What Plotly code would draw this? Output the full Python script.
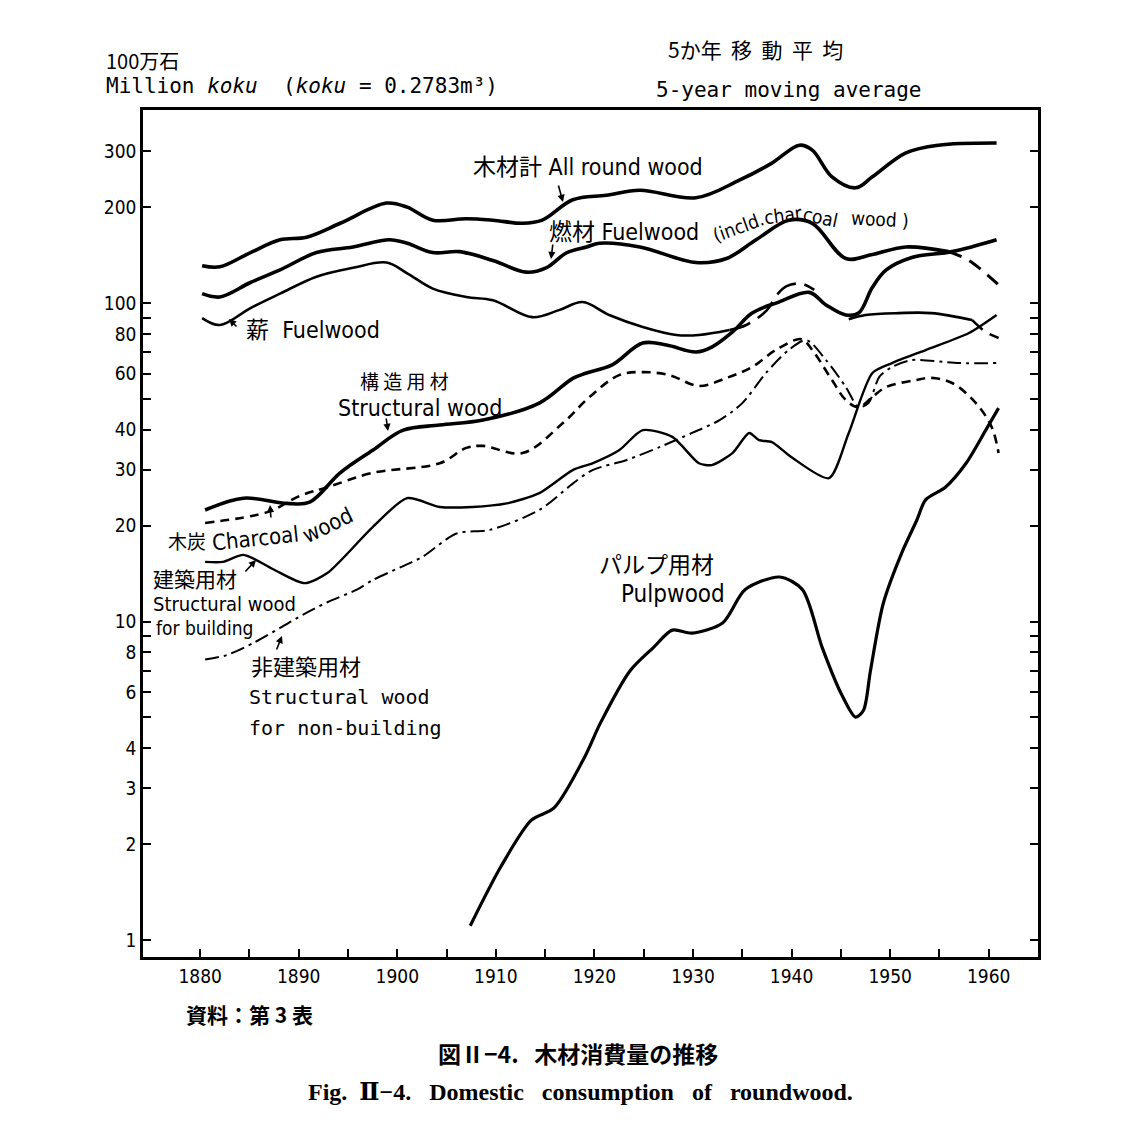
import plotly.graph_objects as go

# ---------------- data (5-year moving averages, million koku) ----------------
all_years = [1880.2, 1882.0, 1885.1, 1888.1, 1890.8, 1894.2, 1898.9, 1901.0, 1903.6, 1907.0, 1909.7,
             1912.7, 1914.7, 1917.8, 1921.2, 1924.6, 1930.3, 1934.7, 1938.0, 1940.8, 1942.1, 1944.1,
             1946.5, 1948.2, 1951.6, 1954.9, 1960.8]
all_vals = [131, 130, 144, 158, 161, 178, 206, 200, 182, 184, 182,
            178, 182, 211, 218, 226, 214, 243, 275, 313, 302, 249,
            230, 249, 296, 313, 318]

fuel_years = [1880.2, 1882.0, 1885.1, 1888.1, 1891.8, 1895.5, 1899.2, 1901.0, 1903.6, 1906.3, 1909.7,
              1913.1, 1915.1, 1917.2, 1919.2, 1920.5, 1924.6, 1930.3, 1933.4, 1936.4, 1939.7, 1942.1,
              1945.5, 1948.2, 1951.6, 1955.9]
fuel_vals = [107, 104.5, 116, 127, 144, 150, 158, 154, 144, 145, 136,
             125, 129, 144, 150, 154, 150, 134, 138, 158, 182, 178,
             138, 142, 150, 145]
fuel_tail_years = [1955.9, 1958.0, 1961.0]
fuel_tail_vals = [145, 136, 114]

fw_years = [1880.2, 1882.0, 1885.1, 1888.1, 1891.8, 1895.5, 1898.9, 1901.0, 1903.6, 1907.0, 1909.7,
            1913.7, 1916.4, 1918.8, 1921.5, 1924.9, 1928.3, 1930.6, 1933.7]
fw_vals = [89.7, 85.3, 96.4, 107, 121, 129, 134, 124, 111, 104.5, 102,
           90.3, 95, 100.7, 91.7, 84.1, 79.4, 79.4, 82.3]
fw_war_years = [1933.7, 1935.4, 1937.5, 1938.5, 1939.5, 1941.0, 1942.3]
fw_war_vals = [82.3, 85.3, 95, 106, 113, 115, 110]
fw_post_years = [1945.8, 1947.5, 1950.9, 1954.2, 1958.3]
fw_post_vals = [89, 91.7, 93, 93, 88.5]
fw_tail_years = [1958.3, 1959.7, 1961.0]
fw_tail_vals = [88.5, 81.1, 77.7]

struct_years = [1880.5, 1884.4, 1888.8, 1891.1, 1894.2, 1897.5, 1900.6, 1904.3, 1908.7, 1914.4, 1917.8,
                1919.2, 1921.8, 1924.9, 1927.3, 1930.3, 1931.9, 1934.0, 1936.0, 1938.7, 1941.8, 1943.5,
                1945.5, 1946.8, 1948.2, 1949.6, 1952.2, 1956.3, 1960.8]
struct_vals = [22.4, 24.4, 23.5, 23.7, 29.3, 34.5, 39.9, 41.4, 42.9, 48.5, 58,
               60.3, 64, 74.9, 73.8, 70.2, 72.7, 81.1, 93, 100.7, 108, 98.6,
               91.7, 93, 112, 127, 139, 145, 158]

charcoal_years = [1880.5, 1886.9, 1890.1, 1892.9, 1897.5, 1904.3, 1907.0, 1908.7, 1912.7, 1916.8, 1919.5,
                  1922.5, 1924.9, 1927.6, 1930.6, 1933.4, 1936.0, 1938.4, 1941.0, 1942.1, 1944.1, 1945.5,
                  1946.8, 1948.2, 1949.6, 1952.6, 1954.2, 1956.3, 1958.7, 1960.3, 1961.0]
charcoal_vals = [20.4, 22.1, 24.8, 26.4, 29.3, 31.4, 35.1, 35.6, 33.8, 42, 50.7,
                 59.4, 60.7, 59.4, 54.9, 58.2, 63, 71.2, 77, 71.2, 57.3, 49.6,
                 47.1, 50.7, 54.5, 57.3, 58.2, 56.1, 48.5, 40.8, 33.8]

bld_years = [1880.5, 1882.3, 1884.4, 1887.4, 1890.6, 1892.9, 1897.5, 1901.0, 1904.3, 1907.6, 1911.1,
             1914.4, 1917.8, 1919.8, 1922.5, 1924.9, 1927.9, 1930.6, 1931.9, 1934.0, 1935.7, 1936.7,
             1938.0, 1940.0, 1943.8, 1945.8, 1948.2, 1950.2, 1953.6, 1958.0, 1960.8]
bld_vals = [15.4, 15.4, 16.2, 14.6, 13.2, 14.2, 19.8, 24.4, 22.9, 22.9, 23.5,
            25.3, 29.9, 31.4, 34.5, 39.9, 38, 31.4, 31, 33.8, 39.1, 37.1,
            36.6, 32.8, 28.2, 39.1, 60.3, 64.8, 71.2, 80.5, 91.7]

nonbld_years = [1880.5, 1882.7, 1885.4, 1888.1, 1890.4, 1892.9, 1895.9, 1897.5, 1900.3, 1902.6, 1906.0,
                1909.4, 1914.4, 1917.8, 1919.8, 1923.2, 1926.6, 1929.9, 1932.7, 1935.0, 1937.4, 1939.7,
                1941.5, 1943.5, 1945.5, 1946.8, 1947.8, 1948.9, 1950.2, 1952.2, 1957.0, 1960.8]
nonbld_vals = [7.6, 7.85, 8.57, 9.55, 10.5, 11.5, 12.6, 13.5, 14.8, 16.0, 18.9,
               19.4, 22.4, 27.1, 29.9, 32.1, 35.3, 39.1, 42.9, 48.5, 60.3, 71.2,
               76.5, 66.2, 54.5, 47.1, 48.5, 58.6, 63, 66.2, 64.8, 64.8]

pulp_years = [1907.4, 1910.5, 1913.6, 1915.9, 1919.0, 1920.6, 1923.6, 1926.0, 1927.9, 1929.9, 1933.0,
              1935.3, 1938.8, 1941.1, 1943.1, 1945.0, 1946.5, 1947.3, 1948.0, 1949.3, 1951.2, 1952.7,
              1953.6, 1955.6, 1957.7, 1959.7, 1961.0]
pulp_vals = [1.11, 1.70, 2.38, 2.60, 3.75, 4.80, 7.0, 8.3, 9.4, 9.2, 9.9,
             12.6, 13.8, 12.6, 8.3, 5.97, 5.01, 5.27, 7.0, 11.4, 16.5, 20.8,
             24.1, 26.4, 31.4, 39.9, 46.8]

x_tick_years = list(range(1880, 1966, 5))
x_tick_labels = [str(y) if (y % 10 == 0 and y <= 1960) else "" for y in x_tick_years]
y_tick_vals = [1, 2, 3, 4, 5, 6, 7, 8, 9, 10, 20, 30, 40, 50, 60, 70, 80, 90, 100, 200, 300]
y_tick_labels = ["1", "2", "3", "4", "", "6", "", "8", "", "10", "20", "30", "40", "", "60", "", "80",
                 "", "100", "200", "300"]

# ---------------- figure ----------------
OFF = 8                      # page body margin of the browser
W, H = 1124 - OFF, 1142 - OFF
L, R, T, B = 143 - OFF, 1038 - OFF, 110 - OFF, 957 - OFF
PW, PH = R - L, B - T

SANS = "DejaVu Sans Condensed, Liberation Sans Narrow, DejaVu Sans, Noto Sans CJK JP, sans-serif"
MONO = "DejaVu Sans Mono, Liberation Mono, Noto Sans CJK JP, monospace"
SERIF = "Liberation Serif, DejaVu Serif, Noto Sans CJK JP, serif"
CJK = "Noto Sans CJK JP, sans-serif"

fig = go.Figure()


def add_line(xs, ys, width, dash="solid", smoothing=1.0):
    fig.add_trace(go.Scatter(x=xs, y=ys, mode="lines",
                             line=dict(color="black", width=width, dash=dash,
                                       shape="spline", smoothing=smoothing),
                             hoverinfo="skip", showlegend=False))


add_line(all_years, all_vals, 3.6)
add_line(fuel_years, fuel_vals, 3.6)
add_line(fuel_tail_years, fuel_tail_vals, 3.0, dash="14px,9px")
add_line(fw_years, fw_vals, 2.6)
add_line(fw_war_years, fw_war_vals, 2.6, dash="22px,9px")
add_line(fw_post_years, fw_post_vals, 2.6)
add_line(fw_tail_years, fw_tail_vals, 2.6, dash="14px,9px")
add_line(struct_years, struct_vals, 3.6)
add_line(charcoal_years, charcoal_vals, 2.6, dash="9px,6px")
add_line(bld_years, bld_vals, 2.4, smoothing=0.7)
add_line(nonbld_years, nonbld_vals, 2.0, dash="14px,5px,3px,5px", smoothing=0.8)
add_line(pulp_years, pulp_vals, 3.2, smoothing=0.8)


def P(xp, yp):
    # reference-screen pixel -> paper coordinates
    return (xp - OFF - L) / PW, (B - (yp - OFF)) / PH


ann = []


def text(s, xp, yp, size=20, family=SANS, anchor="left", angle=0):
    x, y = P(xp, yp)
    ann.append(dict(text=s, x=x, y=y, xref="paper", yref="paper", showarrow=False,
                    xanchor=anchor, yanchor="middle", textangle=angle,
                    font=dict(family=family, size=size, color="black")))


def arrow(tip, tail):
    x, y = P(*tip)
    ann.append(dict(text="", x=x, y=y, xref="paper", yref="paper", showarrow=True,
                    ax=tail[0] - tip[0], ay=tail[1] - tip[1], arrowhead=2, arrowsize=0.9,
                    arrowwidth=1.6, arrowcolor="black"))


# header texts
text("100万石", 104, 60, 20, CJK)
text("Million <i>koku</i>  (<i>koku</i> = 0.2783m³)", 104, 86, 21, MONO)
text("5か年  移  動  平  均", 666, 49, 21, CJK)
text("5-year moving average", 654, 90, 21, MONO)

# series labels
text("木材計 All round wood", 471, 167, 23)
arrow((563, 202), (558, 184))
text("燃材 Fuelwood", 547, 232, 23)
text("(incld.", 738, 227, 19, anchor="center", angle=-20)
text("char", 783, 215, 19, anchor="center", angle=-8)
text("coal", 820, 217, 19, anchor="center", angle=12)
text("wood )", 880, 219, 19, anchor="center", angle=3)
arrow((551, 259), (553, 243))
text("薪  Fuelwood", 244, 330, 23)
arrow((229, 319), (238, 328))
text("構 造 用 材", 358, 381, 19, CJK)
text("Structural wood", 336, 408, 23)
arrow((388, 431), (386, 417))
text("木炭", 166, 540, 19, CJK)
text("Charcoal", 255, 538, 22, anchor="center", angle=-6)
text("wood", 327, 525, 22, anchor="center", angle=-26)
arrow((270, 505), (271, 519))
text("建築用材", 151, 578, 21, CJK)
text("Structural wood", 151, 604, 20)
text("for building", 154, 628, 19)
arrow((256, 560), (244, 573))
text("非建築用材", 249, 665, 22, CJK)
text("Structural wood", 247, 697, 20, MONO)
text("for non-building", 247, 728, 20, MONO)
arrow((282, 636), (276, 651))
text("パルプ用材", 597, 563, 23, CJK)
text("Pulpwood", 619, 594, 24)

# footer texts
text("<b>資料：第 3 表</b>", 184, 1014, 21, CJK)
text("<b>図Ⅱ−4.   木材消費量の推移</b>", 578, 1053, 23, CJK, anchor="center")
text("<b>Fig.  Ⅱ−4.   Domestic   consumption   of   roundwood.</b>", 580, 1092, 24, SERIF,
     anchor="center")

fig.update_layout(
    width=W, height=H,
    margin=dict(l=L, r=W - R, t=T, b=H - B, pad=0),
    paper_bgcolor="white", plot_bgcolor="white",
    annotations=ann,
    font=dict(family=SANS, color="black"),
)
fig.update_xaxes(range=[1874.2, 1965], tickvals=x_tick_years, ticktext=x_tick_labels,
                 ticks="inside", ticklen=8, tickwidth=2, tickcolor="black",
                 showline=True, linewidth=2.5, linecolor="black", mirror=True,
                 showgrid=False, zeroline=False,
                 tickfont=dict(family=SANS, size=19, color="black"))
fig.update_yaxes(type="log", range=[-0.053, 2.606], tickvals=y_tick_vals, ticktext=y_tick_labels,
                 ticks="inside", ticklen=8, tickwidth=2, tickcolor="black",
                 showline=True, linewidth=2.5, linecolor="black", mirror="ticks",
                 showgrid=False, zeroline=False,
                 tickfont=dict(family=SANS, size=19, color="black"))

fig.write_html("out.html")
